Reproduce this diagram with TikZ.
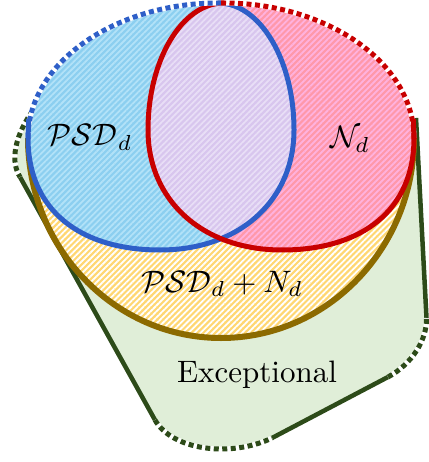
\documentclass[tikz,border=0pt]{standalone}
\usetikzlibrary{patterns.meta}
\definecolor{bluefill}{HTML}{8CCFF0}
\definecolor{bluestripe}{HTML}{B2E2F8}
\definecolor{redfill}{HTML}{FF98AA}
\definecolor{redstripe}{HTML}{FFB2DE}
\definecolor{lavfill}{HTML}{D8C6EE}
\definecolor{lavstripe}{HTML}{E8DEF6}
\definecolor{yelfill}{HTML}{FFD772}
\definecolor{grnfill}{HTML}{E0EED8}
\definecolor{grnline}{HTML}{2D4B19}
\definecolor{goldline}{HTML}{8C6A00}
\definecolor{blueline}{HTML}{2E5FC8}
\definecolor{redline}{HTML}{C80000}
\def\bluepath{(28,138) .. controls (28,63) and (115,3) .. (218,3) .. controls (260,3) and (294,60) .. (294,130) .. controls (294,200) and (240,250) .. (160,250) .. controls (80,250) and (28,210) .. (28,138) -- cycle}
\def\redpath{(414,138) .. controls (414,63) and (327,3) .. (224,3) .. controls (182,3) and (148,60) .. (148,130) .. controls (148,200) and (202,250) .. (282,250) .. controls (362,250) and (414,210) .. (414,138) -- cycle}
\def\yelpath{(28,138) .. controls (28,63) and (115,3) .. (218,3) -- (224,3) .. controls (327,3) and (414,63) .. (414,138) .. controls (414,248) and (327.6,338) .. (221,338) .. controls (114.4,338) and (28,248) .. (28,138) -- cycle}
\def\greenpath{(38,104) .. controls (18,128) and (8,158) .. (20,177) -- (155,420) .. controls (172,450) and (230,458) .. (272,438) -- (388,377) .. controls (412,364) and (427,340) .. (426.5,318) -- (416,118) -- cycle}
\begin{document}
\begin{tikzpicture}[x=1pt,y=-1pt,
  stripes/.style={pattern={Lines[angle=45,distance=4.2pt,line width=1.8pt]},pattern color=#1},
  grnsolid/.style={draw=grnline,line width=4.5pt},
  dotsunder/.style={draw=white,line width=5pt},
  dotsover/.style={line width=5pt,dash pattern=on 5pt off 3.5pt},
  lbl/.style={scale=3.1,anchor=base,inner sep=0pt}]
\useasboundingbox (0,0) rectangle (428,462);
% Exceptional region
\fill[grnfill] \greenpath;
\draw[grnsolid] (20,177) -- (155,420);
\draw[grnsolid] (272,438) -- (388,377);
\draw[grnsolid] (426.5,318) -- (416,118);
\draw[dotsunder] (38,104) .. controls (18,128) and (8,158) .. (20,177);
\draw[dotsover,grnline] (38,104) .. controls (18,128) and (8,158) .. (20,177);
\draw[dotsunder] (155,420) .. controls (172,450) and (230,458) .. (272,438);
\draw[dotsover,grnline] (155,420) .. controls (172,450) and (230,458) .. (272,438);
\draw[dotsunder] (388,377) .. controls (412,364) and (427,340) .. (426.5,318);
\draw[dotsover,grnline] (388,377) .. controls (412,364) and (427,340) .. (426.5,318);
% PSD + N region
\fill[yelfill] \yelpath;
\fill[stripes=white] \yelpath;
\draw[goldline,line width=6pt] (414,138) .. controls (414,248) and (327.6,338) .. (221,338) .. controls (114.4,338) and (28,248) .. (28,138);
% PSD and N
\fill[bluefill] \bluepath;
\fill[stripes=bluestripe] \bluepath;
\fill[redfill] \redpath;
\fill[stripes=redstripe] \redpath;
\begin{scope}
\clip \bluepath;
\fill[lavfill] \redpath;
\fill[stripes=lavstripe] \redpath;
\end{scope}
\draw[blueline,line width=5pt] (218,3) .. controls (260,3) and (294,60) .. (294,130) .. controls (294,200) and (240,250) .. (160,250) .. controls (80,250) and (28,210) .. (28,138);
\draw[redline,line width=5pt] (224,3) .. controls (182,3) and (148,60) .. (148,130) .. controls (148,200) and (202,250) .. (282,250) .. controls (362,250) and (414,210) .. (414,138);
% shared top boundary
\draw[dotsunder] (28,138) .. controls (28,63) and (115,3) .. (218,3) -- (221,3);
\draw[dotsover,blueline] (28,138) .. controls (28,63) and (115,3) .. (218,3) -- (221,3);
\draw[dotsunder] (221,3) -- (224,3) .. controls (327,3) and (414,63) .. (414,138);
\draw[dotsover,redline] (221,3) -- (224,3) .. controls (327,3) and (414,63) .. (414,138);
\draw[blueline,line width=5pt] (28,139) -- (28.7,119);
\draw[redline,line width=5pt] (414,139) -- (413.3,119);
% labels
\node[lbl] (psd) at (90,146) {$\mathcal{PSD}_d$};
\node[lbl] (nd) at (350,148) {$\mathcal{N}_d$};
\node[lbl] (sum) at (222,292) {$\mathcal{PSD}_d+N_d$};
\node[lbl] (exc) at (257,382) {Exceptional};
\end{tikzpicture}
\end{document}
